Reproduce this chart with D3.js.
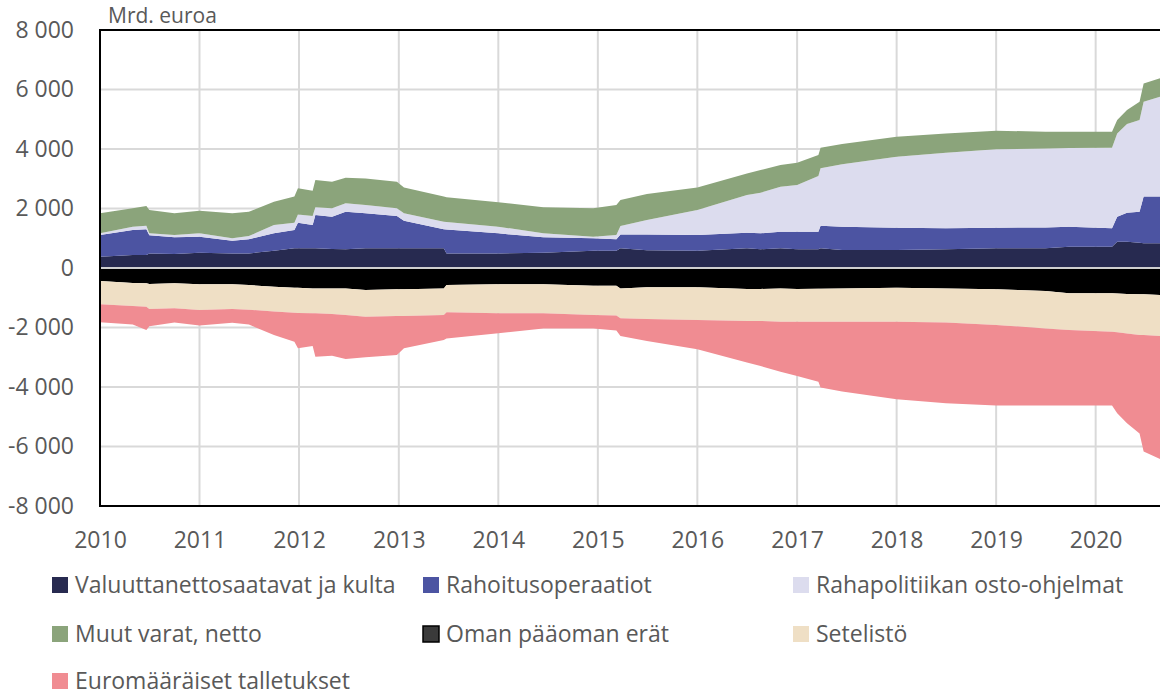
<!DOCTYPE html>
<html>
<head>
<meta charset="utf-8">
<script src="https://cdn.jsdelivr.net/npm/d3@7"></script>
<style>
  body { margin: 0; background: #fff; }
  text { font-family: "Open Sans", "Noto Sans", sans-serif; fill: #595959; }
</style>
</head>
<body>
<div id="chart"></div>
<script>
// dates of the read-off points (weekly data thinned out, jumps kept as two close dates)
const dates = [
  "2010-01-01", "2010-05-01", "2010-06-20", "2010-07-01", "2010-10-01",
  "2011-01-01", "2011-05-01", "2011-07-01", "2011-10-01", "2011-12-15",
  "2011-12-28", "2012-02-20", "2012-03-01", "2012-05-01", "2012-06-20",
  "2012-09-01", "2012-12-25", "2013-01-20", "2013-06-15", "2013-06-25",
  "2014-01-01", "2014-06-15", "2014-12-15", "2015-03-10", "2015-03-25",
  "2015-06-30", "2016-01-01", "2016-07-01", "2016-08-20", "2016-11-01",
  "2017-01-01", "2017-03-20", "2017-03-28", "2017-06-15", "2018-01-01",
  "2018-07-01", "2019-01-01", "2019-07-01", "2019-09-25", "2020-03-01",
  "2020-03-20", "2020-04-25", "2020-06-10", "2020-06-25", "2020-08-24"
];

// billions of euro
const valuutta = [380, 440, 440, 490, 470, 515, 490, 490, 580, 660,
  660, 660, 660, 640, 630, 660, 660, 660, 660, 490,
  490, 515, 580, 580, 660, 600, 580, 660, 630, 660,
  630, 630, 660, 605, 605, 630, 660, 660, 715, 715,
  885, 885, 850, 830, 830];
const rahoitus = [730, 840, 860, 610, 560, 535, 430, 475, 585, 620,
  860, 785, 1120, 1085, 1260, 1180, 1090, 930, 640, 800,
  675, 515, 420, 385, 470, 530, 530, 525, 535, 560,
  590, 590, 760, 785, 750, 705, 695, 705, 675, 620,
  840, 975, 1040, 1570, 1570];
const ostot = [60, 110, 120, 70, 80, 115, 80, 110, 280, 240,
  280, 305, 260, 280, 285, 275, 255, 250, 255, 255,
  225, 135, 50, 145, 280, 485, 840, 1265, 1365, 1510,
  1570, 1870, 1930, 2095, 2385, 2540, 2635, 2655, 2640, 2710,
  2800, 2980, 3085, 3190, 3360];
const muut = [670, 615, 660, 780, 730, 760, 840, 815, 785, 880,
  880, 850, 920, 895, 860, 895, 895, 870, 845, 835,
  820, 875, 955, 1005, 875, 870, 760, 730, 760, 730,
  750, 710, 695, 680, 675, 650, 625, 560, 550, 535,
  450, 470, 615, 615, 615];
const omaPaaoma = [-440, -500, -515, -540, -515, -550, -550, -575, -630, -660,
  -660, -685, -685, -685, -685, -740, -715, -715, -685, -570,
  -550, -550, -595, -600, -685, -650, -650, -705, -705, -685,
  -705, -700, -700, -685, -660, -685, -715, -775, -850, -850,
  -860, -870, -885, -885, -905];
const setelisto = [-780, -780, -785, -840, -840, -860, -830, -825, -835, -840,
  -850, -835, -840, -865, -895, -895, -895, -895, -895, -920,
  -975, -975, -985, -1000, -1005, -1065, -1100, -1075, -1075, -1120,
  -1100, -1105, -1105, -1120, -1145, -1150, -1200, -1255, -1235, -1290,
  -1300, -1330, -1365, -1370, -1380];
const talletukset = [-605, -620, -780, -580, -480, -525, -460, -500, -785, -975,
  -1190, -1100, -1455, -1400, -1480, -1365, -1315, -1090, -840, -880,
  -670, -505, -450, -505, -595, -740, -985, -1400, -1515, -1680,
  -1825, -2015, -2215, -2350, -2610, -2715, -2710, -2595, -2540, -2485,
  -2725, -3020, -3310, -3915, -4135];

const seriesNames = [
  "Valuuttanettosaatavat ja kulta", "Rahoitusoperaatiot", "Rahapolitiikan osto-ohjelmat",
  "Muut varat, netto", "Oman pääoman erät", "Setelistö", "Euromääräiset talletukset"
];
const seriesValues = [valuutta, rahoitus, ostot, muut, omaPaaoma, setelisto, talletukset];
const colors = ["#272a50", "#4c54a2", "#dcdcee", "#8ba47b", "#000000", "#efdfc5", "#f08c92"];

const yTicks = [-8000, -6000, -4000, -2000, 0, 2000, 4000, 6000, 8000];
const yearTicks = [2010, 2011, 2012, 2013, 2014, 2015, 2016, 2017, 2018, 2019, 2020];

const W = 1160, H = 695;
const plotLeft = 100, plotTop = 30, plotBottom = 506, plotRight = 1160;

const parse = d3.timeParse("%Y-%m-%d");
const table = dates.map((d, i) => {
  const row = { date: parse(d) };
  seriesNames.forEach((k, j) => row[k] = seriesValues[j][i]);
  return row;
});

const svg = d3.select("#chart").append("svg")
  .attr("width", W)
  .attr("height", H);

const x = d3.scaleTime()
  .domain([parse("2010-01-01"), parse("2020-08-24")])
  .range([plotLeft, plotRight]);

const y = d3.scaleLinear()
  .domain([-8000, 8000])
  .range([plotBottom, plotTop]);

const fmt = d3.formatLocale({ decimal: ",", thousands: " ", grouping: [3], currency: ["", " €"], minus: "-" }).format(",d");

// gridlines
svg.append("g")
  .selectAll("line")
  .data(yTicks.filter(v => v !== 0 && Math.abs(v) !== 8000))
  .join("line")
  .attr("x1", plotLeft).attr("x2", plotRight)
  .attr("y1", d => y(d)).attr("y2", d => y(d))
  .attr("stroke", "#d9d9d9")
  .attr("stroke-width", 2);

svg.append("g")
  .selectAll("line")
  .data(yearTicks.slice(1))
  .join("line")
  .attr("x1", d => x(new Date(d, 0, 1))).attr("x2", d => x(new Date(d, 0, 1)))
  .attr("y1", plotTop).attr("y2", plotBottom)
  .attr("stroke", "#d9d9d9")
  .attr("stroke-width", 2);

// stacked areas
const stack = d3.stack()
  .keys(seriesNames)
  .offset(d3.stackOffsetDiverging);

const layers = stack(table);

const area = d3.area()
  .x(d => x(d.data.date))
  .y0(d => y(d[0]))
  .y1(d => y(d[1]));

svg.append("g")
  .selectAll("path")
  .data(layers)
  .join("path")
  .attr("fill", (d, i) => colors[i])
  .attr("d", area);

// zero line
svg.append("line")
  .attr("x1", plotLeft).attr("x2", plotRight)
  .attr("y1", y(0)).attr("y2", y(0))
  .attr("stroke", "#d0d0d0")
  .attr("stroke-width", 2);

// frame: top, bottom, left
svg.append("line").attr("x1", plotLeft).attr("x2", plotRight).attr("y1", plotTop).attr("y2", plotTop)
  .attr("stroke", "#000").attr("stroke-width", 2);
svg.append("line").attr("x1", plotLeft).attr("x2", plotRight).attr("y1", plotBottom).attr("y2", plotBottom)
  .attr("stroke", "#000").attr("stroke-width", 2);
svg.append("line").attr("x1", plotLeft).attr("x2", plotLeft).attr("y1", plotTop - 1).attr("y2", plotBottom + 1)
  .attr("stroke", "#000").attr("stroke-width", 2);

// y axis labels
const yAxis = d3.axisLeft(y).tickValues(yTicks).tickFormat(fmt).tickSize(0).tickPadding(26);
const yg = svg.append("g").attr("transform", `translate(${plotLeft},0)`).call(yAxis);
yg.select(".domain").remove();
yg.selectAll("text").style("font-size", "23px").attr("fill", "#595959");

// x axis labels
const xAxis = d3.axisBottom(x)
  .tickValues(yearTicks.map(d => new Date(d, 0, 1)))
  .tickFormat(d3.timeFormat("%Y"))
  .tickSize(0).tickPadding(26);
const xg = svg.append("g").attr("transform", `translate(0,${plotBottom})`).call(xAxis);
xg.select(".domain").remove();
xg.selectAll("text").style("font-size", "23px").attr("fill", "#595959");

// unit label
svg.append("text")
  .attr("x", 108).attr("y", 23)
  .style("font-size", "21px")
  .text("Mrd. euroa");

// legend
const legendPos = [
  [52, 585], [423, 585], [793, 585],
  [52, 634], [423, 634], [793, 634],
  [52, 681]
];
const legend = svg.append("g")
  .selectAll("g")
  .data(seriesNames)
  .join("g")
  .attr("transform", (d, i) => `translate(${legendPos[i][0]},${legendPos[i][1]})`);

legend.append("rect")
  .attr("x", 0).attr("y", -8)
  .attr("width", 16).attr("height", 16)
  .attr("fill", (d, i) => i === 4 ? "#3a3a3a" : colors[i])
  .attr("stroke", (d, i) => i === 4 ? "#000" : "none")
  .attr("stroke-width", 1.5);

legend.append("text")
  .attr("x", 23).attr("y", 8)
  .style("font-size", "23px")
  .text(d => d);
</script>
</body>
</html>
